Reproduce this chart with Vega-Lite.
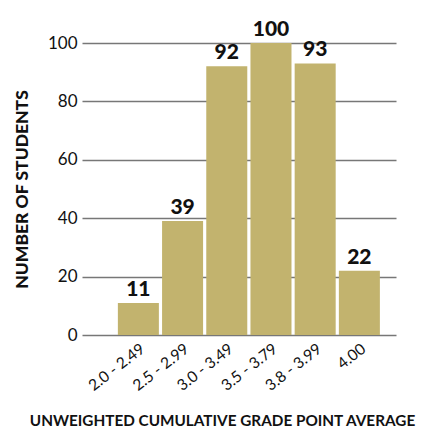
{
  "$schema": "https://vega.github.io/schema/vega-lite/v6.json",
  "autosize": "none",
  "width": 314,
  "height": 292,
  "padding": {"left": 82, "top": 43, "right": 36, "bottom": 99},
  "background": "white",
  "config": {"view": {"stroke": null}, "font": "Lato"},
  "data": {"values": [
    {"gpa": "2.0 - 2.49", "students": 11},
    {"gpa": "2.5 - 2.99", "students": 39},
    {"gpa": "3.0 - 3.49", "students": 92},
    {"gpa": "3.5 - 3.79", "students": 100},
    {"gpa": "3.8 - 3.99", "students": 93},
    {"gpa": "4.00", "students": 22}
  ]},
  "encoding": {
    "x": {"field": "gpa", "type": "nominal", "sort": null,
      "scale": {"paddingInner": 0.072, "paddingOuter": 0.588, "align": 0.69},
      "axis": {"title": "UNWEIGHTED CUMULATIVE GRADE POINT AVERAGE", "labelAngle": -38, "labelFontSize": 15.5, "labelColor": "#111", "labelFont": "Lato",
        "ticks": false, "domain": false, "labelPadding": 6,
        "titleFontSize": 15.3, "titleFontWeight": "bold", "titleColor": "#111", "titleX": 140, "titleY": 90, "titleBaseline": "alphabetic", "titleAnchor": "middle", "titleAlign": "center"}},
    "y": {"field": "students", "type": "quantitative",
      "scale": {"domain": [0, 100], "nice": false},
      "axis": {"title": "NUMBER OF STUDENTS", "values": [0, 20, 40, 60, 80, 100], "grid": true, "gridColor": "#777", "gridWidth": 1.3, "gridOpacity": 1,
        "ticks": false, "domain": false, "labelFontSize": 17, "labelColor": "#111", "labelPadding": 5,
        "titleFontSize": 17.5, "titleFontWeight": 900, "titleColor": "#111", "titlePadding": 16}}
  },
  "layer": [
    {"mark": {"type": "bar", "color": "#c2b36e"}},
    {"mark": {"type": "text", "fontSize": 21, "fontWeight": 900, "dy": -7, "baseline": "alphabetic", "color": "#111"},
     "encoding": {"text": {"field": "students", "type": "quantitative"}}}
  ]
}
